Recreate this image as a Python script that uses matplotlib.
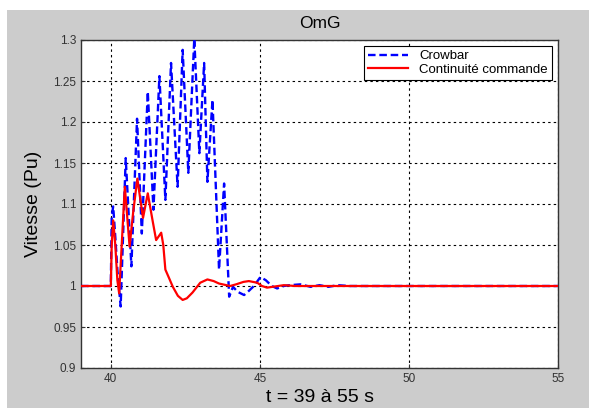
import matplotlib
matplotlib.use("Agg")
import matplotlib.pyplot as plt
from matplotlib.patches import Rectangle

plt.rcParams['font.family'] = ['Liberation Sans', 'DejaVu Sans']

# Crowbar (blue dashed)
crow_t = [39.0, 40.0, 40.03, 40.08, 40.15, 40.22, 40.33, 40.5, 40.69, 40.88, 41.04,
          41.24, 41.43, 41.63, 41.83, 42.02, 42.24, 42.41, 42.6, 42.8, 42.97,
          43.13, 43.24, 43.41, 43.63, 43.8, 43.97, 44.1, 44.25, 44.47, 44.6,
          44.8, 45.02, 45.2, 45.4, 45.58, 45.8, 46.0, 46.36, 46.7, 47.0,
          47.3, 47.6, 48.0, 55.0]
crow_v = [1.0, 1.0, 1.085, 1.097, 1.06, 1.02, 0.975, 1.156, 1.024, 1.204, 1.064,
          1.237, 1.093, 1.256, 1.105, 1.272, 1.121, 1.288, 1.138, 1.302, 1.162,
          1.272, 1.127, 1.227, 1.02, 1.125, 0.987, 0.999, 0.993, 0.989, 0.993,
          1.0, 1.011, 1.007, 1.0, 0.997, 1.0, 1.001, 1.002, 0.999, 1.001,
          0.999, 1.001, 1.0, 1.0]

# Continuite commande (red solid)
cont_t = [39.0, 40.0, 40.03, 40.08, 40.15, 40.22, 40.28, 40.38, 40.47, 40.63, 40.75,
          40.89, 41.08, 41.24, 41.4, 41.52, 41.69, 41.76, 41.83, 41.95, 42.08,
          42.25, 42.41, 42.55, 42.74, 43.0, 43.24, 43.45, 43.63, 44.0, 44.2,
          44.45, 44.63, 44.91, 45.07, 45.24, 45.52, 45.8, 46.2, 55.0]
cont_v = [1.0, 1.0, 1.05, 1.080, 1.05, 1.007, 0.991, 1.06, 1.121, 1.048, 1.09,
          1.131, 1.083, 1.113, 1.08, 1.056, 1.065, 1.05, 1.02, 1.01, 0.999,
          0.988, 0.983, 0.985, 0.992, 1.004, 1.008, 1.006, 1.003, 1.0, 1.002,
          1.005, 1.006, 1.004, 1.0, 0.998, 0.9995, 1.001, 1.0, 1.0]

xticks = [40, 45, 50, 55]
yticks = [0.9, 0.95, 1.0, 1.05, 1.1, 1.15, 1.2, 1.25, 1.3]
ytick_labels = ['0.9', '0.95', '1', '1.05', '1.1', '1.15', '1.2', '1.25', '1.3']

fig = plt.figure(figsize=(5.89, 4.08), dpi=100, facecolor='white')
fig.patches.append(Rectangle((7 / 589, 0), 1, 398 / 408, transform=fig.transFigure,
                             facecolor='#cccccc', edgecolor='none', zorder=-10))

ax = fig.add_axes([81 / 589, 40 / 408, 477 / 589, 328 / 408])
ax.set_facecolor('white')

ax.plot(crow_t, crow_v, color='#0000ff', ls='--', lw=1.7, label='Crowbar',
        dashes=(3.2, 1.6), zorder=3)
ax.plot(cont_t, cont_v, color='#ff0000', ls='-', lw=1.6, label='Continuité commande',
        zorder=4)

ax.set_xlim(39, 55)
ax.set_ylim(0.9, 1.3)
ax.set_xticks(xticks)
ax.set_yticks(yticks)
ax.set_yticklabels(ytick_labels)
ax.tick_params(direction='in', length=3, labelsize=8.5, labelcolor='#333333',
               color='#333333')
ax.grid(True, color='black', linestyle=(0, (2.2, 2.8)), lw=0.8)
for s in ax.spines.values():
    s.set_color('#333333')
    s.set_linewidth(1.0)

ax.set_title('OmG', fontsize=12.5, pad=9)
ax.set_ylabel('Vitesse (Pu)', fontsize=14, labelpad=8)
ax.set_xlabel('t = 39 à 55 s', fontsize=14, labelpad=3)

leg = ax.legend(loc='upper right', fontsize=9.5, fancybox=False, framealpha=1,
                edgecolor='black', borderaxespad=0.45, handlelength=3.0,
                borderpad=0.3, labelspacing=0.1, handletextpad=0.9)
leg.get_frame().set_linewidth(0.8)

fig.savefig('out.png', dpi=100, facecolor=fig.get_facecolor())
